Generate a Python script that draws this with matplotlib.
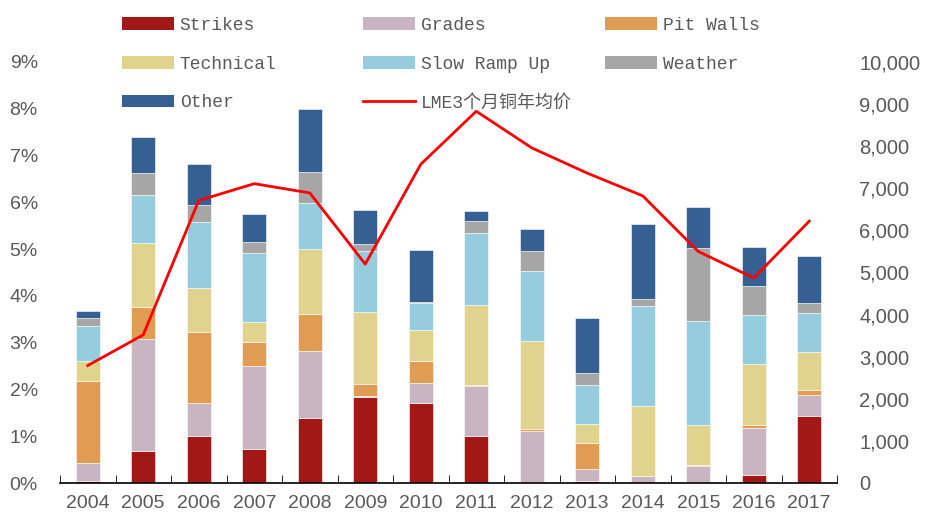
import numpy as np
import matplotlib
matplotlib.use("Agg")
import matplotlib.pyplot as plt
from matplotlib.patches import Patch
from matplotlib.lines import Line2D

years = ['2004', '2005', '2006', '2007', '2008', '2009', '2010',
         '2011', '2012', '2013', '2014', '2015', '2016', '2017']

# disruption shares (% of supply), stacked bottom to top
strikes   = [0.04, 0.68, 1.00, 0.73, 1.39, 1.84, 1.71, 1.00, 0.02, 0.05, 0.01, 0.02, 0.18, 1.44]
grades    = [0.39, 2.40, 0.70, 1.78, 1.44, 0.01, 0.42, 1.07, 1.10, 0.25, 0.13, 0.34, 1.00, 0.45]
pit_walls = [1.76, 0.69, 1.52, 0.50, 0.78, 0.26, 0.48, 0.03, 0.03, 0.56, 0.00, 0.02, 0.07, 0.10]
technical = [0.41, 1.37, 0.95, 0.44, 1.40, 1.55, 0.67, 1.71, 1.89, 0.41, 1.51, 0.85, 1.29, 0.82]
slow_ramp = [0.76, 1.01, 1.42, 1.46, 0.97, 1.31, 0.56, 1.53, 1.50, 0.83, 2.14, 2.23, 1.06, 0.82]
weather   = [0.17, 0.47, 0.36, 0.25, 0.66, 0.13, 0.03, 0.27, 0.41, 0.25, 0.14, 1.57, 0.62, 0.22]
other     = [0.14, 0.78, 0.88, 0.58, 1.36, 0.74, 1.12, 0.21, 0.49, 1.18, 1.60, 0.87, 0.83, 1.01]

# LME 3-month copper, yearly average (USD/t)
lme_price = [2790, 3520, 6710, 7110, 6890, 5200, 7570, 8830, 7960, 7360, 6820, 5500, 4870, 6220]

series = [
    ('Strikes', strikes, '#A21816'),
    ('Grades', grades, '#C9B4C2'),
    ('Pit Walls', pit_walls, '#DF9C52'),
    ('Technical', technical, '#DFD38D'),
    ('Slow Ramp Up', slow_ramp, '#95CCDE'),
    ('Weather', weather, '#A6A6A6'),
    ('Other', other, '#366092'),
]
line_label = 'LME3个月铜年均价'

txt_color = '#595959'
plt.rcParams['font.family'] = ['Liberation Sans', 'DejaVu Sans']

fig = plt.figure(figsize=(9.33, 5.18), dpi=100)
ax = fig.add_axes([60 / 933, 35 / 518, 777 / 933, 421 / 518])

x = np.arange(len(years))
bottom = np.zeros(len(years))
handles = {}
for name, vals, col in series:
    ax.bar(x, vals, 0.44, bottom=bottom, color=col, edgecolor='white', linewidth=0.4)
    bottom += np.array(vals)
    handles[name] = Patch(facecolor=col, edgecolor='none')

ax.set_xlim(-0.5, len(years) - 0.5)
ax.set_ylim(0, 9)
ax.set_yticks(range(0, 10))
ax.set_yticklabels([f'{v}%' for v in range(0, 10)])
ax.set_xticks(x)
ax.set_xticklabels(years)
ax.set_xticks(np.arange(-0.5, len(years)), minor=True)
ax.tick_params(axis='x', which='major', length=0, pad=9, labelsize=14, labelcolor=txt_color)
ax.tick_params(axis='x', which='minor', length=6, direction='in', color='black')
ax.tick_params(axis='y', length=0, pad=16, labelsize=14, labelcolor=txt_color)
for s in ['top', 'right', 'left']:
    ax.spines[s].set_visible(False)
ax.spines['bottom'].set_color('black')
ax.spines['bottom'].set_linewidth(1.2)

ax2 = ax.twinx()
ax2.plot(x, lme_price, color='#FF0000', linewidth=2)
ax2.set_ylim(0, 10000)
ax2.set_yticks(range(0, 10001, 1000))
ax2.set_yticklabels([f'{v:,}' for v in range(0, 10001, 1000)])
ax2.tick_params(axis='y', length=0, pad=16, labelsize=14.5, labelcolor=txt_color)
for s in ['top', 'right', 'left', 'bottom']:
    ax2.spines[s].set_visible(False)
handles[line_label] = Line2D([0], [0], color='#FF0000', linewidth=2)

# legend laid out in three columns like the original
columns = [
    (['Strikes', 'Technical', 'Other'], 122),
    (['Grades', 'Slow Ramp Up', line_label], 363),
    (['Pit Walls', 'Weather'], 605),
]
for names, xpix in columns:
    leg = fig.legend([handles[n] for n in names], names,
                     loc='upper left', bbox_to_anchor=(xpix / 933, 1 - 17 / 518),
                     frameon=False, ncol=1, borderpad=0, borderaxespad=0,
                     handlelength=2.9, handleheight=0.7, handletextpad=0.3,
                     labelspacing=1.2,
                     prop={'family': ['Liberation Mono', 'Noto Sans CJK SC'], 'size': 13})
    for t in leg.get_texts():
        t.set_color(txt_color)

fig.savefig('out.png', dpi=100)
